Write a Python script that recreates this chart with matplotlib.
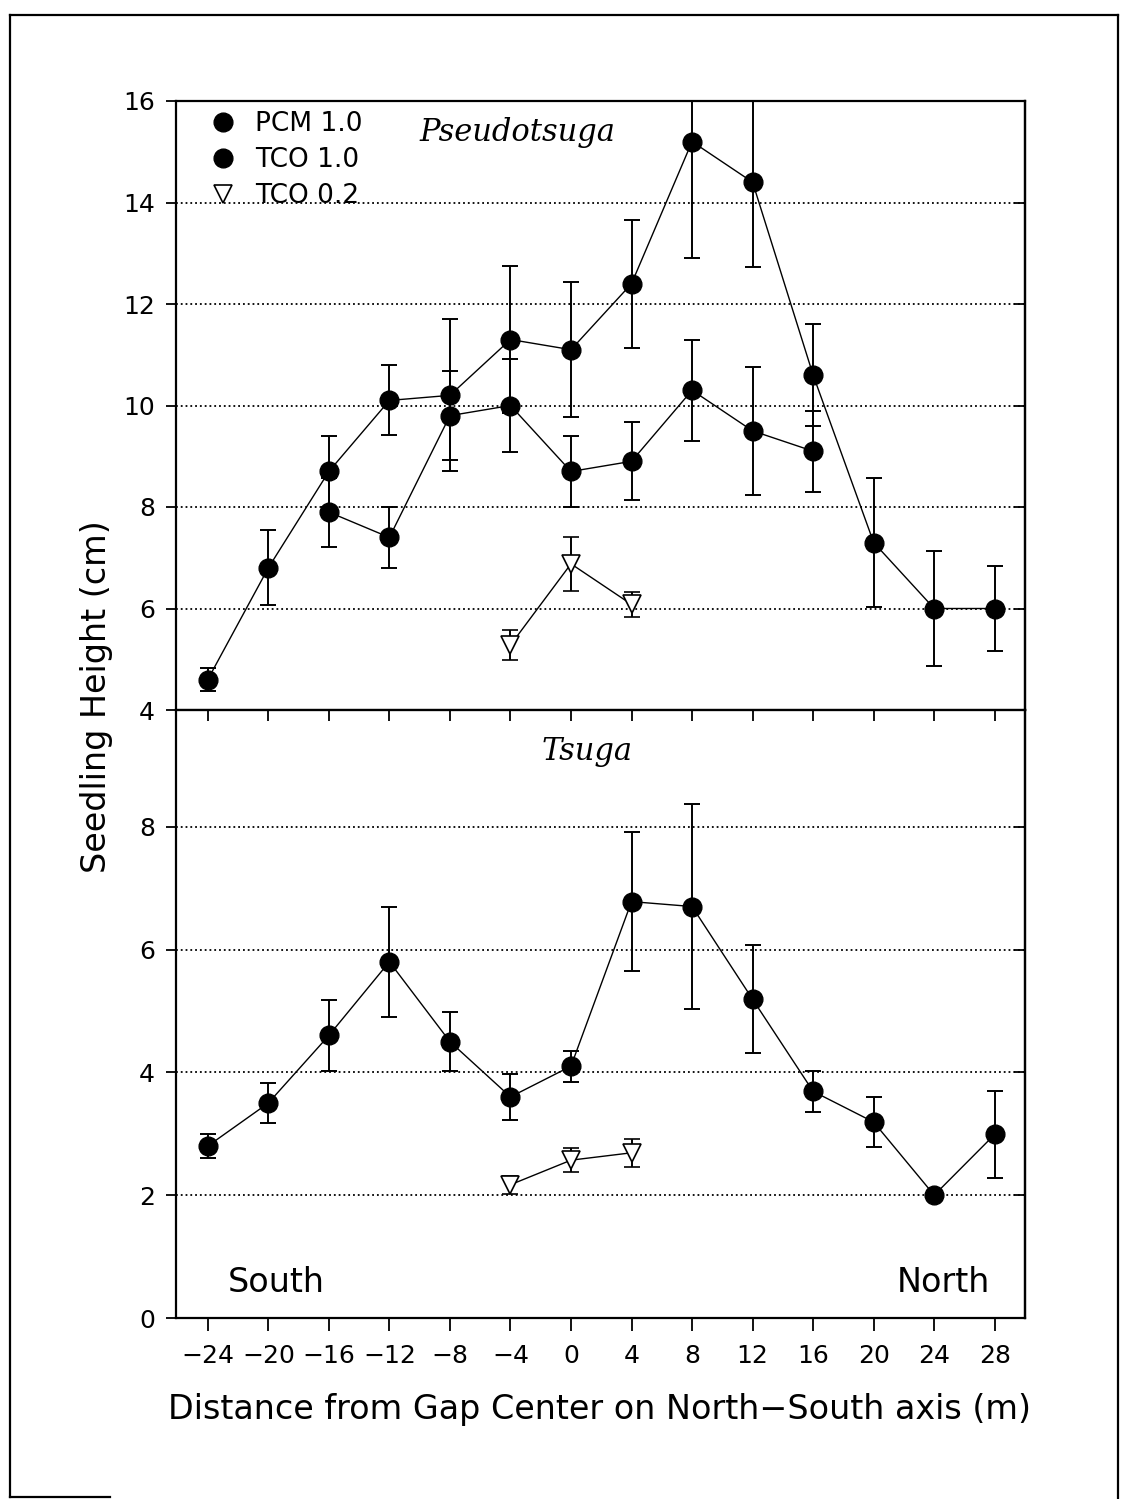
import matplotlib
matplotlib.use('Agg')
import matplotlib.pyplot as plt
from matplotlib.lines import Line2D

# distances from gap centre (m)
dist = [-24, -20, -16, -12, -8, -4, 0, 4, 8, 12, 16, 20, 24, 28]

# Pseudotsuga
pseudo_pcm = [4.6, 6.8, 8.7, 10.1, 10.2, 11.3, 11.1, 12.4, 15.2, 14.4, 10.6, 7.3, 6.0, 6.0]
pseudo_pcm_err = [0.23, 0.74, 0.7, 0.69, 1.5, 1.44, 1.33, 1.26, 2.3, 1.68, 1.0, 1.27, 1.13, 0.83]
dist_tco = [-16, -12, -8, -4, 0, 4, 8, 12, 16]
pseudo_tco = [7.9, 7.4, 9.8, 10.0, 8.7, 8.9, 10.3, 9.5, 9.1]
pseudo_tco_err = [0.68, 0.6, 0.88, 0.92, 0.7, 0.77, 1.0, 1.26, 0.8]
dist_tco02 = [-4, 0, 4]
pseudo_tco02 = [5.28, 6.88, 6.08]
pseudo_tco02_err = [0.29, 0.53, 0.25]

# Tsuga
tsuga_pcm = [2.8, 3.5, 4.6, 5.8, 4.5, 3.6, 4.1, 6.78, 6.7, 5.19, 3.69, 3.19, 2.0, 2.99]
tsuga_pcm_err = [0.2, 0.32, 0.58, 0.9, 0.48, 0.37, 0.25, 1.13, 1.67, 0.88, 0.33, 0.41, 0.0, 0.71]
tsuga_tco02 = [2.17, 2.57, 2.69]
tsuga_tco02_err = [0.15, 0.2, 0.23]

xticks = list(range(-24, 29, 4))

plt.rcParams['font.family'] = ['DejaVu Sans']

fig = plt.figure(figsize=(11.22, 14.99), dpi=100)
L, R = 176/1122, 1025/1122
ax1 = fig.add_axes([L, 1 - 710/1499, R - L, (710 - 101)/1499])
ax2 = fig.add_axes([L, 1 - 1318/1499, R - L, (1318 - 710)/1499])

ms = 13.5
tri = dict(fmt='-v', color='k', mfc='white', mec='k', ms=13, mew=1.2,
           lw=1, capsize=6, elinewidth=1.4, capthick=1.4)
dot = dict(fmt='-o', color='k', mfc='k', mec='k', ms=ms,
           lw=1, capsize=6, elinewidth=1.4, capthick=1.4)

ax1.errorbar(dist, pseudo_pcm, yerr=pseudo_pcm_err, **dot)
ax1.errorbar(dist_tco, pseudo_tco, yerr=pseudo_tco_err, **dot)
ax1.errorbar(dist_tco02, pseudo_tco02, yerr=pseudo_tco02_err, **tri)

ax2.errorbar(dist, tsuga_pcm, yerr=tsuga_pcm_err, **dot)
ax2.errorbar(dist_tco02, tsuga_tco02, yerr=tsuga_tco02_err, **tri)

for ax in (ax1, ax2):
    ax.set_xlim(-26.1, 30)
    ax.set_xticks(xticks)
    ax.grid(axis='y', linestyle=':', color='k', lw=1.3)
    ax.set_axisbelow(True)
    for s in ax.spines.values():
        s.set_linewidth(1.6)
    ax.tick_params(axis='y', direction='out', length=7, width=1.3,
                   labelsize=18, pad=8)
    sy = ax.secondary_yaxis('right')
    sy.tick_params(direction='in', length=8, width=1.3, labelright=False)
    for s in sy.spines.values():
        s.set_linewidth(1.6)

ax1.set_ylim(4, 16)
ax1.set_yticks(range(4, 17, 2))
ax1.tick_params(axis='x', bottom=False, labelbottom=False)

ax2.set_ylim(0, 9.9)
ax2.set_yticks([0, 2, 4, 6, 8])
ax2.tick_params(axis='x', direction='out', length=9, width=1.3,
                labelsize=18, pad=10)
ax2.set_xticklabels([str(v).replace('-', '\u2212') for v in xticks])
sx = ax2.secondary_xaxis('top')
sx.set_xticks(xticks)
sx.tick_params(direction='in', length=8, width=1.3, labeltop=False)

# legend, markers only
handles = [Line2D([], [], marker='o', ls='none', color='k', ms=ms),
           Line2D([], [], marker='o', ls='none', color='k', ms=ms),
           Line2D([], [], marker='v', ls='none', mfc='white', mec='k', ms=13, mew=1.2)]
ax1.legend(handles, ['PCM 1.0', 'TCO 1.0', 'TCO 0.2'], loc='upper left',
           bbox_to_anchor=(0.04, 0.983), frameon=False, fontsize=19,
           handlelength=1.0, handletextpad=0.7, labelspacing=0.38,
           borderpad=0, borderaxespad=0)

ax1.text(0.287, 0.949, 'Pseudotsuga', transform=ax1.transAxes, family='DejaVu Serif',
         style='italic', fontsize=22, ha='left', va='center')
ax2.text(0.431, 0.931, 'Tsuga', transform=ax2.transAxes, family='DejaVu Serif',
         style='italic', fontsize=22, ha='left', va='center')
ax2.text(0.061, 0.058, 'South', transform=ax2.transAxes, fontsize=24,
         ha='left', va='center')
ax2.text(0.959, 0.058, 'North', transform=ax2.transAxes, fontsize=24,
         ha='right', va='center')

fig.text(97/1122, 1 - 697/1499, 'Seedling Height (cm)', rotation=90,
         fontsize=24, ha='center', va='center')
fig.text(599/1122, 1 - 1410/1499,
         'Distance from Gap Center on North\u2212South axis (m)',
         fontsize=24, ha='center', va='center')

# page frame of the scanned figure
for xs, ys in [([10, 1118], [15, 15]), ([10, 10], [15, 1497]),
               ([1118, 1118], [15, 1499]), ([10, 110], [1497, 1497])]:
    fig.add_artist(Line2D([x/1122 for x in xs], [1 - y/1499 for y in ys],
                          color='k', lw=1.6))

fig.savefig('out.png', dpi=100)
